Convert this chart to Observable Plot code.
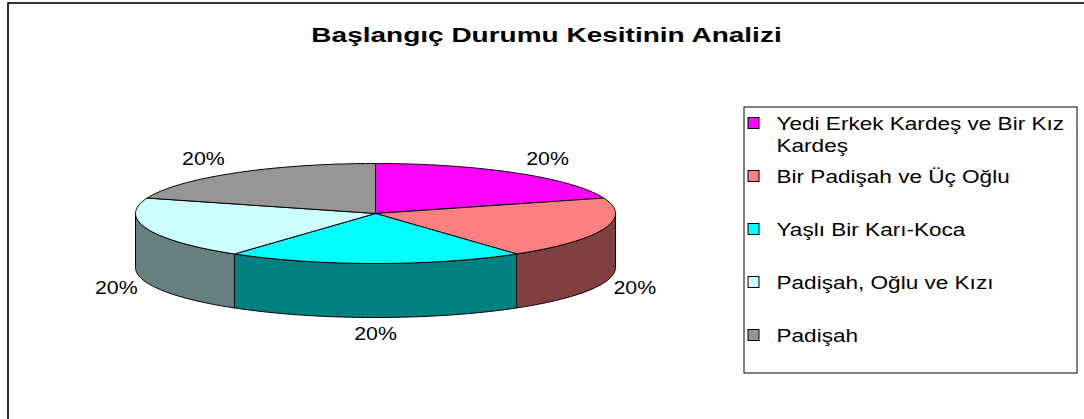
<!DOCTYPE html>
<html><head><meta charset="utf-8">
<script src="https://cdn.jsdelivr.net/npm/d3@7"></script>
<script src="https://cdn.jsdelivr.net/npm/@observablehq/plot@0.6"></script>
<style>html,body{margin:0;padding:0;background:#fff;overflow:hidden}</style>
</head><body><div id="chart"></div>
<script>
const title = "Başlangıç Durumu Kesitinin Analizi";
const categories = ["Yedi Erkek Kardeş ve Bir Kız Kardeş", "Bir Padişah ve Üç Oğlu", "Yaşlı Bir Karı-Koca", "Padişah, Oğlu ve Kızı", "Padişah"];
const values = [20, 20, 20, 20, 20];
const topColors = ["#FF00FF", "#FF8080", "#00FFFF", "#CCFFFF", "#969696"];
const sideColors = ["#800080", "#804040", "#008080", "#668080", "#4B4B4B"];

const W = 1084, H = 419;
const pie = {cx: 375, cy: 213, rx: 240, ry: 50, depth: 54};
const total = d3.sum(values);
let acc = 0;
const slices = values.map((v, i) => {
  const a0 = acc / total * 2 * Math.PI; acc += v;
  const a1 = acc / total * 2 * Math.PI;
  return {i, name: categories[i], value: v, a0, a1};
});
const px = a => pie.cx + pie.rx * Math.sin(a);
const py = a => pie.cy - pie.ry * Math.cos(a);
const steps = (a0, a1, n) => d3.range(n + 1).map(k => a0 + (a1 - a0) * k / n);

const topPts = [];
for (const s of slices) {
  const id = "top" + s.i, fill = topColors[s.i];
  topPts.push({id, x: pie.cx, y: pie.cy, fill});
  for (const a of steps(s.a0, s.a1, 60)) topPts.push({id, x: px(a), y: py(a), fill});
  topPts.push({id, x: pie.cx, y: pie.cy, fill});
}
const sidePts = [];
for (const s of slices) {
  const b0 = Math.max(s.a0, Math.PI / 2), b1 = Math.min(s.a1, 3 * Math.PI / 2);
  if (b1 <= b0) continue;
  const id = "side" + s.i, fill = sideColors[s.i];
  const up = steps(b0, b1, 60);
  const pts = [...up.map(a => [px(a), py(a)]), ...up.slice().reverse().map(a => [px(a), py(a) + pie.depth])];
  pts.push(pts[0]);
  for (const [x, y] of pts) sidePts.push({id, x, y, fill});
}
const labels = slices.map(s => {
  const m = (s.a0 + s.a1) / 2, sn = Math.sin(m), cs = Math.cos(m);
  const sg = Math.abs(sn) < 1e-6 ? 0 : Math.sign(sn);
  return {
    text: Math.round(s.value / total * 100) + "%",
    x: px(m) + 31 * sg,
    y: py(m) + (cs < 0 ? pie.depth : 0) - 17 * cs
  };
});
const legendRows = categories.map((name, i) => ({name, color: topColors[i], y: 123 + i * 53}));
const fsLegend = 18.5;

const chart = Plot.plot({
  width: W, height: H, margin: 0,
  style: {fontFamily: "'Liberation Sans', Arial, sans-serif", background: "white", overflow: "hidden"},
  x: {domain: [0, W], range: [0, W], axis: null},
  y: {domain: [0, H], range: [0, H], axis: null},
  color: {type: "identity"},
  marks: [
    Plot.rect([0], {x1: 8, x2: W + 6, y1: 3, y2: H + 6, stroke: "black", strokeWidth: 1.6, fill: "white"}),
    Plot.line(sidePts, {x: "x", y: "y", z: "id", fill: "fill", stroke: "black", strokeWidth: 1, curve: "linear"}),
    Plot.line(topPts, {x: "x", y: "y", z: "id", fill: "fill", stroke: "black", strokeWidth: 1, curve: "linear"}),
    Plot.text(labels, {x: "x", y: "y", text: "text", fontSize: 17.5, fill: "black", textAnchor: "middle", lineAnchor: "middle", className: "pct"}),
    Plot.text([title], {x: 546, y: 35, text: d => d, fontSize: 20, fontWeight: "bold", fill: "black", textAnchor: "middle", lineAnchor: "middle", className: "ttl"}),
    Plot.rect([0], {x1: 744, x2: 1077, y1: 107, y2: 373, stroke: "black", strokeWidth: 1, fill: "white"}),
    Plot.rect(legendRows, {x1: 748, x2: 759, y1: d => d.y - 5.5, y2: d => d.y + 5.5, fill: "color", stroke: "black", strokeWidth: 1}),
    Plot.text(legendRows, {x: 776, y: d => d.y - 0.36 * fsLegend - 3, text: "name", lineWidth: 14, lineHeight: 1.2, fontSize: fsLegend, fill: "black", textAnchor: "start", lineAnchor: "top", className: "leg"})
  ]
});
document.getElementById("chart").appendChild(chart);

function stretch(cls, sx) {
  d3.select(chart).selectAll("g." + cls + " text, ." + cls + " text").each(function() {
    let t = this.getAttribute("transform");
    if (!t) {
      const x = +this.getAttribute("x") || 0, y = +this.getAttribute("y") || 0;
      this.removeAttribute("x"); this.removeAttribute("y");
      t = `translate(${x},${y})`;
    }
    this.setAttribute("transform", t + ` scale(${sx},1)`);
  });
}
stretch("ttl", 1.40);
stretch("leg", 1.22);
stretch("pct", 1.22);
</script>
</body></html>
